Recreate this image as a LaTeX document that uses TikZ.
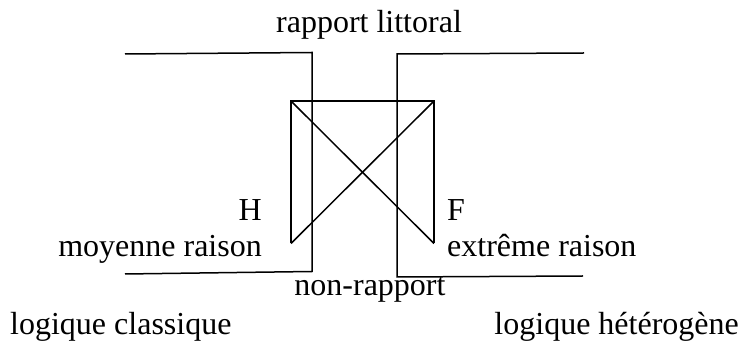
\documentclass[tikz,border=0pt]{standalone}
\usepackage{fontspec}
\setmainfont{Liberation Serif}
\begin{document}
\begin{tikzpicture}[x=1pt,y=-1pt,
  lbl/.style={inner sep=0pt,anchor=base,font=\fontsize{32}{38}\selectfont},
  stroke/.style={line width=1.5pt,line join=miter}]
\useasboundingbox (0,0) rectangle (740,344);
% text
\node[lbl] (rl) at (369,33) {rapport littoral};
\node[lbl,anchor=base east] (h) at (262,221) {H};
\node[lbl,anchor=base east] (mr) at (262,257) {moyenne raison};
\node[lbl,anchor=base west] (f) at (447,221) {F};
\node[lbl,anchor=base west] (er) at (447,257) {extrême raison};
\node[lbl] (nr) at (370,296) {non-rapport};
\node[lbl,anchor=base west] (lc) at (10,335) {logique classique};
\node[lbl,anchor=base east] (lh) at (739,335) {logique hétérogène};
% left bracket
\coordinate (la) at (125,54);
\coordinate (lb) at (312,52.5);
\coordinate (lc2) at (312,271.5);
\coordinate (ld) at (125,274);
\draw[stroke] (la) -- (lb) -- (lc2) -- (ld);
% right bracket
\coordinate (ra) at (584,53);
\coordinate (rb) at (397,54);
\coordinate (rc) at (397,277);
\coordinate (rd) at (583,276);
\draw[stroke] (ra) -- (rb) -- (rc) -- (rd);
% box with cross
\coordinate (tl) at (291,101);
\coordinate (tr) at (434,101);
\coordinate (bl) at (291,243.5);
\coordinate (br) at (434,243.5);
\draw[stroke] (bl) -- (tl) -- (tr) -- (br);
\draw[stroke] (tl) -- (br);
\draw[stroke] (tr) -- (bl);
\end{tikzpicture}
\end{document}
